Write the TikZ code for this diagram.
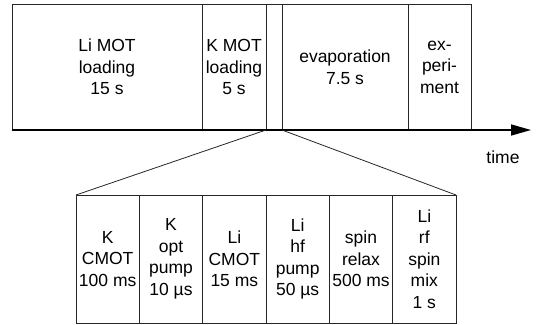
\documentclass[tikz,border=0pt]{standalone}
\usepackage{fontspec}
\setmainfont{Liberation Sans}
\usetikzlibrary{arrows.meta}
\begin{document}
\begin{tikzpicture}[x=1pt,y=-1pt,
  box/.style={draw=black!85, line width=0.8pt, inner sep=0pt, outer sep=0pt,
    align=center, anchor=north west, font=\fontsize{17.5}{21.5}\selectfont},
  topbox/.style={box, minimum height=126pt},
  botbox/.style={box, minimum height=128pt, minimum width=63.33pt},
  link/.style={draw=black!85, line width=0.8pt}]
\useasboundingbox (0,0) rectangle (554,324);
% top row
\node[topbox, minimum width=190pt] (limot) at (12,4) {Li MOT\\loading\\15 s};
\node[topbox, minimum width=64pt] (kmot) at (202,4) {K MOT\\loading\\5 s};
\node[topbox, minimum width=16pt] (gap) at (266,4) {};
\node[topbox, minimum width=126pt] (evap) at (282,4) {evaporation\\7.5 s};
\node[topbox, minimum width=63pt] (exp) at (408,4) {ex-\\peri-\\ment};
% time axis
\coordinate (tip) at (531,130);
\draw[line width=1.6pt, -{Triangle[length=20pt,width=11pt]}] (limot.south west) -- (tip);
\node[font=\fontsize{17.5}{21.5}\selectfont] (time) at (503,157) {time};
% bottom row
\node[botbox] (kcmot) at (76,195) {K\\CMOT\\100 ms};
\node[botbox] (kopt) at (139.33,195) {K\\opt\\pump\\10 µs};
\node[botbox] (licmot) at (202.67,195) {Li\\CMOT\\15 ms};
\node[botbox] (lihf) at (266,195) {Li\\hf\\pump\\50 µs};
\node[botbox] (spin) at (329.33,195) {spin\\relax\\500 ms};
\node[botbox] (lirf) at (392.67,195) {Li\\rf\\spin\\mix\\1 s};
% zoom lines
\draw[link] (gap.south west) -- (kcmot.north west);
\draw[link] (gap.south east) -- (lirf.north east);
\end{tikzpicture}
\end{document}
